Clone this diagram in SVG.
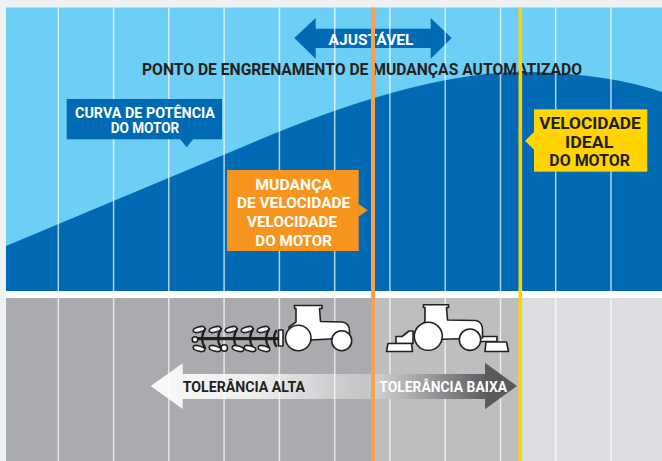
<svg xmlns="http://www.w3.org/2000/svg" width="662" height="461" viewBox="0 0 662 461">
<defs>
<style>
.t{font-family:Roboto,"Liberation Sans",sans-serif;font-weight:bold}
.w{fill:#ffffff}
.d{fill:#231f20}
.grid{stroke:#ffffff;stroke-opacity:0.7;stroke-width:1.5}
.ink{fill:#ffffff;stroke:#231f20;stroke-width:1.6;stroke-linejoin:round}
.arc{fill:none;stroke:#231f20;stroke-width:2.4;stroke-linecap:round}
</style>
<linearGradient id="gAlta" gradientUnits="userSpaceOnUse" x1="150" y1="0" x2="372" y2="0">
<stop offset="0" stop-color="#ffffff" stop-opacity="0.92"/>
<stop offset="0.45" stop-color="#ffffff" stop-opacity="0.82"/>
<stop offset="0.8" stop-color="#ffffff" stop-opacity="0.45"/>
<stop offset="1" stop-color="#ffffff" stop-opacity="0.3"/>
</linearGradient>
<linearGradient id="gBaixa" gradientUnits="userSpaceOnUse" x1="372" y1="0" x2="490" y2="0">
<stop offset="0" stop-color="#d3d4d6"/>
<stop offset="0.4" stop-color="#a3a4a6"/>
<stop offset="1" stop-color="#58595b"/>
</linearGradient>
</defs>

<g id="background">
<rect x="0" y="0" width="662" height="461" fill="#eef2f4"/>
<rect x="6" y="7.5" width="656" height="283.5" fill="#6dcff6"/>
<path d="M6,246 L240,148 Q420,70 530,72 Q610,74 662,92 L662,291 L6,291 Z" fill="#006ab4"/>
<rect x="6" y="291" width="656" height="7" fill="#ffffff"/>
<rect x="6" y="298" width="366" height="163" fill="#a9abae"/>
<rect x="372" y="298" width="148" height="163" fill="#bcbec0"/>
<rect x="520" y="298" width="142" height="163" fill="#dcdde0"/>
</g>

<g id="ajustavel">
<polygon points="294.3,38 315.7,18 315.7,28.7 430.7,28.7 430.7,18 451.7,38 430.7,58.7 430.7,48 315.7,48 315.7,58.7" fill="#006ab4"/>
</g>

<g id="grid">
<line class="grid" x1="58.3" y1="7.5" x2="58.3" y2="461"/>
<line class="grid" x1="113.6" y1="7.5" x2="113.6" y2="461"/>
<line class="grid" x1="168.8" y1="7.5" x2="168.8" y2="461"/>
<line class="grid" x1="224.1" y1="7.5" x2="224.1" y2="461"/>
<line class="grid" x1="279.4" y1="7.5" x2="279.4" y2="461"/>
<line class="grid" x1="334.7" y1="7.5" x2="334.7" y2="461"/>
<line class="grid" x1="389.9" y1="7.5" x2="389.9" y2="461"/>
<line class="grid" x1="445.2" y1="7.5" x2="445.2" y2="461"/>
<line class="grid" x1="500.5" y1="7.5" x2="500.5" y2="461"/>
<line class="grid" x1="555.7" y1="7.5" x2="555.7" y2="461"/>
<line class="grid" x1="611" y1="7.5" x2="611" y2="461"/>
</g>

<g id="ajustavel-label">
<text class="t w" x="328.5" y="45.3" font-size="15" textLength="85" lengthAdjust="spacingAndGlyphs">AJUSTÁVEL</text>
</g>

<g id="ponto-label">
<text class="t d" x="142" y="75.3" font-size="16" textLength="440" lengthAdjust="spacingAndGlyphs">PONTO DE ENGRENAMENTO DE MUDANÇAS AUTOMATIZADO</text>
</g>

<g id="curva-box">
<rect x="66.7" y="99" width="155.3" height="40.3" fill="#006ab4"/>
<polygon points="180,139 193.3,139 186.7,147.3" fill="#006ab4"/>
<text class="t w" x="75" y="117.5" font-size="14.5" textLength="140" lengthAdjust="spacingAndGlyphs">CURVA DE POTÊNCIA</text>
<text class="t w" x="110.7" y="133" font-size="14.5" textLength="68.6" lengthAdjust="spacingAndGlyphs">DO MOTOR</text>
</g>

<g id="mudanca-box">
<rect x="227" y="170" width="131.7" height="81" fill="#f7941e"/>
<polygon points="358.5,204 358.5,216.7 367.7,210.3" fill="#f7941e"/>
<text class="t w" x="255.3" y="190" font-size="15.5" textLength="76.7" lengthAdjust="spacingAndGlyphs">MUDANÇA</text>
<text class="t w" x="237" y="208.3" font-size="15.5" textLength="113.3" lengthAdjust="spacingAndGlyphs">DE VELOCIDADE</text>
<text class="t w" x="247" y="226.7" font-size="15.5" textLength="90" lengthAdjust="spacingAndGlyphs">VELOCIDADE</text>
<text class="t w" x="255.3" y="245.7" font-size="15.5" textLength="76.7" lengthAdjust="spacingAndGlyphs">DO MOTOR</text>
</g>

<g id="ideal-box">
<rect x="534" y="109.3" width="113.3" height="62.4" fill="#ffd400"/>
<polygon points="534.3,131.7 534.3,150 525,140.8" fill="#ffd400"/>
<text class="t d" x="539.3" y="129" font-size="17.3" textLength="101.4" lengthAdjust="spacingAndGlyphs">VELOCIDADE</text>
<text class="t d" x="565" y="147.7" font-size="17.3" textLength="48.3" lengthAdjust="spacingAndGlyphs">IDEAL</text>
<text class="t d" x="549.3" y="166" font-size="17.3" textLength="80.7" lengthAdjust="spacingAndGlyphs">DO MOTOR</text>
</g>

<g id="tractor-plough">
<rect x="192" y="337" width="87" height="3.2" fill="#231f20"/>
<path class="arc" d="M205,329 Q199,338.5 205,348"/>
<path class="arc" d="M221,329 Q215,338.5 221,348"/>
<path class="arc" d="M237,329 Q231,338.5 237,348"/>
<path class="arc" d="M253,329 Q247,338.5 253,348"/>
<path class="arc" d="M269,329 Q263,338.5 269,348"/>
<path class="arc" d="M276,331 Q272,338.5 276,346"/>
<ellipse class="ink" cx="199" cy="329.5" rx="6" ry="2.6" transform="rotate(-15 199 329.5)"/>
<ellipse class="ink" cx="215" cy="329.5" rx="6" ry="2.6" transform="rotate(-15 215 329.5)"/>
<ellipse class="ink" cx="231" cy="329.5" rx="6" ry="2.6" transform="rotate(-15 231 329.5)"/>
<ellipse class="ink" cx="247" cy="329.5" rx="6" ry="2.6" transform="rotate(-15 247 329.5)"/>
<ellipse class="ink" cx="263" cy="329.5" rx="6" ry="2.6" transform="rotate(-15 263 329.5)"/>
<ellipse class="ink" cx="199" cy="348.5" rx="6" ry="2.6" transform="rotate(15 199 348.5)"/>
<ellipse class="ink" cx="215" cy="348.5" rx="6" ry="2.6" transform="rotate(15 215 348.5)"/>
<ellipse class="ink" cx="238" cy="348.5" rx="6" ry="2.6" transform="rotate(15 238 348.5)"/>
<ellipse class="ink" cx="250" cy="348.5" rx="6" ry="2.6" transform="rotate(15 250 348.5)"/>
<ellipse class="ink" cx="264" cy="348.5" rx="6" ry="2.6" transform="rotate(15 264 348.5)"/>
<circle class="ink" cx="195" cy="339.5" r="2.8"/>
<circle class="ink" cx="224.3" cy="348" r="3.2"/>
<rect class="ink" x="278.5" y="330" width="4.5" height="16"/>
<path class="ink" d="M289,327 L296,322 L296,308.5 L294.5,308.5 L294.5,305.5 L322,305.5 L322,308.5 L319.5,308.5 L320.5,321.5 L342,322 Q349.5,323 349.5,331 L349.5,338 L290,341 Z"/>
<circle class="ink" cx="298.3" cy="338" r="12.7"/>
<circle class="ink" cx="341.7" cy="340.7" r="10"/>
</g>

<g id="tractor-mower">
<polygon class="ink" points="396,343.5 396,336.5 402,336.5 409,331 413,331 413,343.5"/>
<polygon class="ink" points="386.5,351.5 388,343.5 411.5,343.5 412.5,351.5"/>
<rect class="ink" x="480" y="336.5" width="17" height="5"/>
<polygon class="ink" points="485,351.5 486,342 506.5,342 508.5,351.5"/>
<path class="ink" d="M419,327 L425,322 L425,307.5 L423.5,307.5 L423.5,304.7 L448.5,304.7 L448.5,307.5 L446.5,307.5 L447.5,320 L476,320.5 Q482.5,322 482.5,330 L482.5,338 L420,340 Z"/>
<circle class="ink" cx="428.3" cy="336.3" r="14"/>
<circle class="ink" cx="470" cy="339.7" r="10.7"/>
</g>

<g id="tol-alta">
<polygon points="150.7,386 182.7,363.3 182.7,374 372,374 372,399 182.7,399 182.7,409" fill="url(#gAlta)"/>
<text class="t d" x="182.7" y="391.7" font-size="15.5" textLength="122.3" lengthAdjust="spacingAndGlyphs">TOLERÂNCIA ALTA</text>
</g>

<g id="tol-baixa">
<polygon points="372,374 485,374 485,362.7 517,386 485,409.3 485,399 372,399" fill="url(#gBaixa)"/>
<text class="t w" x="379.3" y="391.7" font-size="15.5" textLength="127.7" lengthAdjust="spacingAndGlyphs">TOLERÂNCIA BAIXA</text>
</g>

<g id="connectors">
<line x1="373" y1="7.5" x2="373" y2="461" stroke="#f9a24c" stroke-width="4"/>
<line x1="520.3" y1="7.5" x2="520.3" y2="461" stroke="#ffd200" stroke-width="3.6"/>
</g>
</svg>
